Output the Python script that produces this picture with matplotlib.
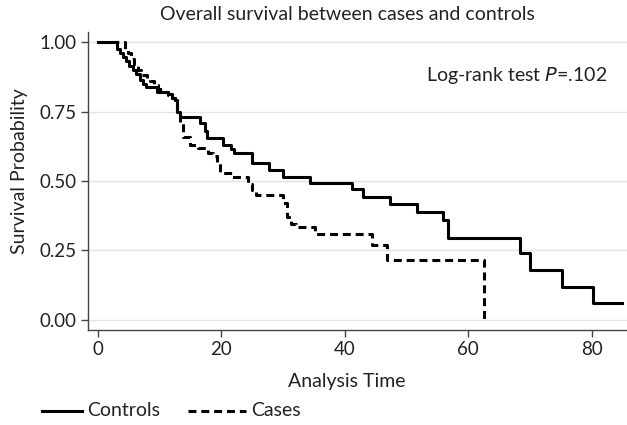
import matplotlib
matplotlib.use("Agg")
import matplotlib.pyplot as plt
from matplotlib.lines import Line2D

plt.rcParams['font.family'] = ['Lato', 'DejaVu Sans']

# Controls (solid) step times and survival after each step
ctrl_time = [0, 3.0, 3.5, 4.0, 4.6, 5.0, 5.6, 6.2, 6.8, 7.3, 7.8, 9.6, 11.3, 12.0, 12.5,
             12.8, 13.3, 16.5, 17.3, 17.7, 20.3, 21.5, 22.0, 25.0, 27.7, 30.0, 34.4,
             41.2, 42.9, 47.3, 51.7, 55.9, 56.7, 68.4, 70.0, 75.2, 80.2, 84.9]
ctrl_surv = [1.0, 0.975, 0.96, 0.945, 0.93, 0.915, 0.90, 0.885, 0.865, 0.85, 0.838, 0.82,
             0.813, 0.80, 0.79, 0.75, 0.73, 0.71, 0.68, 0.655, 0.63, 0.615, 0.60, 0.565,
             0.54, 0.515, 0.493, 0.471, 0.442, 0.417, 0.388, 0.36, 0.295, 0.241, 0.18,
             0.119, 0.061, 0.061]

# Cases (dashed)
case_time = [0, 4.0, 4.3, 4.8, 5.3, 5.8, 6.5, 7.0, 8.0, 8.5, 9.0, 9.8, 10.5, 11.3, 12.0,
             12.5, 12.8, 13.3, 13.8, 14.9, 16.2, 17.8, 18.6, 19.3, 19.8, 21.7, 24.3,
             24.9, 25.6, 30.0, 30.6, 31.3, 32.0, 35.2, 44.4, 46.8, 62.5]
case_surv = [1.0, 1.0, 0.975, 0.96, 0.94, 0.92, 0.90, 0.88, 0.87, 0.86, 0.845, 0.83,
             0.82, 0.81, 0.80, 0.79, 0.745, 0.71, 0.66, 0.63, 0.62, 0.60, 0.59, 0.57,
             0.53, 0.515, 0.49, 0.468, 0.45, 0.42, 0.37, 0.345, 0.335, 0.309, 0.27,
             0.215, 0.0]

x_ticks = [0, 20, 40, 60, 80]
y_ticks = [0.0, 0.25, 0.50, 0.75, 1.00]
y_tick_labels = ["0.00", "0.25", "0.50", "0.75", "1.00"]
series_labels = ["Controls", "Cases"]

FS = 14
TFS = 13.5
TXT = '#222222'
DASH = (0, (2.6, 1.6))
W, H = 627, 425

fig = plt.figure(figsize=(6.27, 4.25), dpi=100)
ax = fig.add_axes([88/W, 1 - 330/H, 1 - 88/W, (330 - 32)/H])

ax.step(ctrl_time, ctrl_surv, where='post', color='black', lw=2.2)
ax.step(case_time, case_surv, where='post', color='black', lw=2.2, linestyle=DASH)

ax.set_xlim(-1.62, 85.7)
ax.set_ylim(-0.036, 1.036)
ax.set_xticks(x_ticks)
ax.set_yticks(y_ticks)
ax.set_yticklabels(y_tick_labels)
ax.yaxis.grid(True, color='#e3e3e3', lw=1.0)
ax.set_axisbelow(True)
for s in ['top', 'right']:
    ax.spines[s].set_visible(False)
for s in ['left', 'bottom']:
    ax.spines[s].set_color('#444444')
    ax.spines[s].set_linewidth(1.0)
ax.tick_params(axis='both', direction='out', length=5, width=1.0, color='#444444',
               labelsize=TFS, labelcolor=TXT)
ax.tick_params(axis='y', pad=3)
ax.tick_params(axis='x', pad=3)

fig.text(20/W, 1 - 171/H, "Survival Probability", fontsize=FS, color=TXT,
         rotation=90, ha='center', va='center')
fig.text(347/W, 1 - 381/H, "Analysis Time", fontsize=FS, color=TXT,
         ha='center', va='center')
fig.text(347/W, 1 - 15/H, "Overall survival between cases and controls",
         fontsize=FS, color=TXT, ha='center', va='center')
fig.text(607/W, 1 - 75/H, r"Log-rank test $\it{P}$=.102",
         fontsize=FS, color=TXT, ha='right', va='center')

# legend (drawn manually so the two keys can have different lengths)
ly = 1 - 411/H
fig.add_artist(Line2D([42/W, 82/W], [ly, ly], color='black', lw=2.2))
fig.text(87/W, ly, series_labels[0], fontsize=FS, color=TXT, ha='left', va='center')
fig.add_artist(Line2D([188/W, 246/W], [ly, ly], color='black', lw=2.2, linestyle=DASH))
fig.text(251/W, ly, series_labels[1], fontsize=FS, color=TXT, ha='left', va='center')

fig.savefig("out.png", dpi=100)
